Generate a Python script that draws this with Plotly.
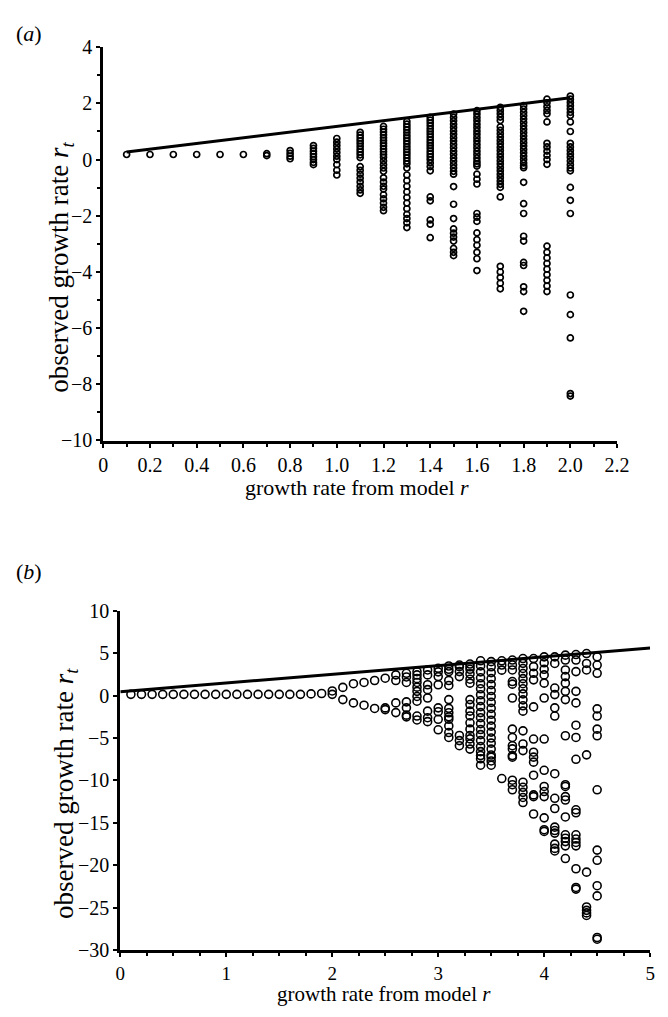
import plotly.graph_objects as go

# ---------------- panel (a) data ----------------
a_r = [0.1, 0.2, 0.3, 0.4, 0.5, 0.6, 0.7, 0.8, 0.9, 1.0,
       1.1, 1.2, 1.3, 1.4, 1.5, 1.6, 1.7, 1.8, 1.9, 2.0]
a_obs = [
    [0.18], [0.18], [0.18], [0.18], [0.18], [0.18],
    [0.21, 0.14],
    [0.32, 0.22, 0.12, 0.03],
    [0.5, 0.4, 0.3, 0.2, 0.1, 0.0, -0.1, -0.18],
    [0.75, 0.62, 0.5, 0.38, 0.25, 0.12, 0.0, -0.18, -0.38, -0.55],
    [0.97, 0.87, 0.77, 0.67, 0.57, 0.47, 0.37, 0.27, 0.17, 0.07,
     -0.25, -0.38, -0.52, -0.66, -0.8, -0.95, -1.08, -1.2],
    [1.18, 1.08, 0.98, 0.88, 0.78, 0.68, 0.58, 0.48, 0.38, 0.28, 0.18, 0.08,
     -0.05, -0.18, -0.3, -0.42, -0.65, -0.8, -0.95, -1.05, -1.25, -1.4, -1.55, -1.7, -1.82],
    [1.36, 1.26, 1.16, 1.06, 0.96, 0.86, 0.76, 0.66, 0.56, 0.46, 0.36, 0.26, 0.16, 0.06,
     -0.05, -0.15, -0.3, -0.55, -0.75, -0.95, -1.15, -1.35, -1.55, -1.75, -1.95, -2.1, -2.25, -2.42],
    [1.5, 1.4, 1.3, 1.2, 1.1, 1.0, 0.9, 0.8, 0.7, 0.6, 0.5, 0.4, 0.3, 0.2, 0.1, 0.0,
     -0.12, -0.25, -0.4, -1.33, -1.47, -2.15, -2.3, -2.78],
    [1.62, 1.5, 1.38, 1.26, 1.14, 1.02, 0.9, 0.78, 0.66, 0.54, 0.42, 0.3, 0.18, 0.06,
     -0.06, -0.18, -0.3, -0.42, -0.52, -0.96, -1.59, -2.1, -2.47, -2.62, -2.76, -2.9,
     -3.16, -3.3, -3.42],
    [1.74, 1.62, 1.5, 1.38, 1.26, 1.14, 1.02, 0.9, 0.78, 0.66, 0.54, 0.42, 0.3, 0.18, 0.06,
     -0.06, -0.15, -0.23, -0.52, -0.7, -0.87, -1.92, -2.05, -2.2, -2.61, -2.85, -3.05,
     -3.3, -3.53, -3.95],
    [1.86, 1.75, 1.63, 1.51, 1.39, 1.16, 1.04, 0.92, 0.8, 0.68, 0.56, 0.44, 0.32, 0.2, 0.08,
     -0.04, -0.16, -0.28, -0.4, -0.52, -0.64, -0.76, -0.88, -0.99, -1.33,
     -3.8, -4.0, -4.2, -4.4, -4.6],
    [1.92, 1.8, 1.68, 1.56, 1.44, 1.32, 1.2, 1.08, 0.96, 0.84, 0.72, 0.6, 0.48, 0.36, 0.24,
     0.12, 0.0, -0.12, -0.22, -0.29, -0.81, -1.57, -1.92, -2.73, -2.9, -3.66, -3.77,
     -4.53, -4.7, -5.4],
    [2.15, 2.02, 1.88, 1.75, 1.63, 1.34, 0.58, 0.45, 0.3, 0.15, 0.0, -0.17,
     -3.08, -3.3, -3.5, -3.7, -3.9, -4.1, -4.3, -4.5, -4.7],
    [2.26, 2.15, 2.03, 1.92, 1.8, 1.68, 1.57, 1.34, 1.0, 0.58, 0.45, 0.32, 0.2, 0.08,
     -0.05, -0.18, -0.3, -0.4, -0.99, -1.45, -1.92, -4.82, -5.52, -6.35, -8.33, -8.42],
]
a_line_r = [0.1, 2.0]
a_line_val = [0.27, 2.2]

# ---------------- panel (b) data ----------------
b_r = [0.1, 0.2, 0.3, 0.4, 0.5, 0.6, 0.7, 0.8, 0.9, 1.0,
       1.1, 1.2, 1.3, 1.4, 1.5, 1.6, 1.7, 1.8, 1.9, 2.0,
       2.1, 2.2, 2.3, 2.4, 2.5, 2.6, 2.7, 2.8, 2.9, 3.0,
       3.1, 3.2, 3.3, 3.4, 3.5, 3.6, 3.7, 3.8, 3.9, 4.0,
       4.1, 4.2, 4.3, 4.4, 4.5]
b_obs = [
    [0.15], [0.15], [0.15], [0.15], [0.15], [0.15], [0.15], [0.15], [0.15], [0.15],
    [0.15], [0.15], [0.15], [0.15], [0.15], [0.15], [0.15], [0.2], [0.25], [0.55, 0.15],
    [0.97, -0.47],
    [1.4, -0.86],
    [1.55, -1.13],
    [1.78, -1.51],
    [2.05, -1.45, -1.65],
    [2.44, 1.78, -0.86, -2.0],
    [2.63, 2.2, 1.55, -0.74, -1.44, -2.3, -2.5],
    [2.83, 2.44, 2.0, 1.55, 1.0, 0.5, -0.1, -0.66, -2.41, -2.87],
    [3.02, 2.44, 1.28, 0.7, -0.28, -1.83, -2.6, -3.07],
    [3.21, 2.8, 2.24, 1.28, -1.44, -1.9, -2.79, -4.03],
    [3.49, 3.1, 2.83, 1.78, 1.2, -0.47, -1.5, -2.02, -2.5, -2.79, -3.57, -4.35, -4.93],
    [3.6, 3.41, 2.83, 2.24, -4.7, -5.3, -5.9],
    [3.72, 3.4, 3.1, 2.56, 1.93, 1.47, -0.47, -1.05, -1.83, -2.4, -3.2, -3.95, -4.7,
     -5.1, -5.7, -6.3],
    [4.1, 3.5, 2.8, 2.1, 1.4, 0.8, 0.1, -0.6, -1.3, -2.0, -2.6, -3.3, -4.0, -4.6, -5.3,
     -6.0, -6.6, -7.06, -7.44, -8.2],
    [4.0, 3.4, 2.7, 2.0, 1.3, 0.6, -0.1, -0.8, -1.5, -2.2, -2.9, -3.6, -4.3, -5.0, -5.6,
     -6.3, -7.0, -7.25, -7.7, -8.2],
    [4.1, 3.6, 3.0, -9.77],
    [4.19, 3.6, 3.02, 1.66, 1.35, -0.28, -3.95, -4.93, -5.9, -6.28, -7.06, -7.25,
     -9.97, -10.5, -11.1],
    [4.37, 3.8, 3.2, 2.6, 2.0, 1.4, 0.8, 0.2, -0.5, -1.2, -1.83, -4.15, -5.7, -6.48,
     -10.2, -10.8, -11.4, -12.0, -12.6],
    [4.37, 3.41, 2.63, 1.86, -1.33, -5.12, -6.67, -7.25, -7.84, -9.38, -11.7, -11.9, -13.95],
    [4.57, 3.87, 3.1, 2.44, 1.47, -0.28, -5.12, -8.8, -10.7, -11.3, -11.9, -14.4, -15.8, -16.0],
    [4.57, 3.79, 0.89, 0.12, -1.44, -2.41, -9.2, -12.1, -13.3, -15.5, -15.9, -16.2,
     -17.5, -18.0, -18.3],
    [4.77, 4.19, 3.02, 2.24, 1.47, 0.5, -0.47, -4.73, -10.5, -10.7, -11.9, -12.3, -14.3,
     -16.4, -16.8, -17.2, -17.7, -19.2],
    [4.84, 4.19, 2.83, 0.5, -0.86, -3.49, -4.93, -7.5, -13.45, -13.8, -16.4, -16.9,
     -17.3, -17.7, -20.4, -22.6, -22.8],
    [4.96, 3.79, 3.02, -6.98, -20.8, -24.9, -25.3, -25.6, -25.9],
    [4.57, 3.6, 2.63, -1.56, -2.41, -3.95, -4.73, -11.1, -18.2, -19.4, -22.4, -23.6,
     -28.5, -28.7],
]
b_line_r = [0.0, 5.0]
b_line_val = [0.45, 5.6]

# tick labels
a_xticks = [0, 0.2, 0.4, 0.6, 0.8, 1.0, 1.2, 1.4, 1.6, 1.8, 2.0, 2.2]
a_xticklabels = ["0", "0.2", "0.4", "0.6", "0.8", "1.0", "1.2", "1.4", "1.6", "1.8", "2.0", "2.2"]
a_yticks = [-10, -8, -6, -4, -2, 0, 2, 4]
a_yticklabels = ["\u221210", "\u22128", "\u22126", "\u22124", "\u22122", "0", "2", "4"]
b_xticks = [0, 1, 2, 3, 4, 5]
b_xticklabels = ["0", "1", "2", "3", "4", "5"]
b_yticks = [-30, -25, -20, -15, -10, -5, 0, 5, 10]
b_yticklabels = ["\u221230", "\u221225", "\u221220", "\u221215", "\u221210", "\u22125", "0", "5", "10"]


def flatten(rs, cols):
    xs, ys = [], []
    for r, vals in zip(rs, cols):
        xs.extend([r] * len(vals))
        ys.extend(vals)
    return xs, ys


ax, ay = flatten(a_r, a_obs)
bx, by = flatten(b_r, b_obs)

FONT = "Liberation Serif"

fig = go.Figure()
fig.add_trace(go.Scatter(x=a_line_r, y=a_line_val, mode="lines",
                         line=dict(color="black", width=3), xaxis="x", yaxis="y",
                         showlegend=False, hoverinfo="skip"))
fig.add_trace(go.Scatter(x=ax, y=ay, mode="markers", xaxis="x", yaxis="y",
                         marker=dict(symbol="circle-open", size=6, color="black",
                                     line=dict(width=1.7, color="black")),
                         showlegend=False))
fig.add_trace(go.Scatter(x=b_line_r, y=b_line_val, mode="lines",
                         line=dict(color="black", width=3), xaxis="x2", yaxis="y2",
                         showlegend=False, hoverinfo="skip"))
fig.add_trace(go.Scatter(x=bx, y=by, mode="markers", xaxis="x2", yaxis="y2",
                         marker=dict(symbol="circle-open", size=8, color="black",
                                     line=dict(width=1.6, color="black")),
                         showlegend=False))

W, H = 668, 1017


def px_x(p):
    return p / W


def px_y(p):
    return 1 - p / H


axis_common = dict(showline=True, linecolor="black", linewidth=3, showgrid=False,
                   zeroline=False, ticks="outside", tickcolor="black", tickwidth=2,
                   ticklen=4, tickfont=dict(family=FONT, size=20, color="black"),
                   mirror=False)

fig.update_layout(
    width=W, height=H,
    margin=dict(l=0, r=0, t=0, b=0),
    paper_bgcolor="white", plot_bgcolor="white",
    font=dict(family=FONT, color="black"),
    xaxis=dict(axis_common, domain=[px_x(101), px_x(629)], range=[0, 2.2],
               tickvals=a_xticks, ticktext=a_xticklabels, anchor="y",
               minor=dict(dtick=0.1, tick0=0, ticks="outside", ticklen=3,
                          tickwidth=2, tickcolor="black")),
    yaxis=dict(axis_common, domain=[px_y(439), px_y(37)], range=[-10, 4],
               tickvals=a_yticks, ticktext=a_yticklabels, anchor="x",
               minor=dict(dtick=1, tick0=0, ticks="outside", ticklen=3,
                          tickwidth=2, tickcolor="black")),
    xaxis2=dict(axis_common, domain=[px_x(118.5), px_x(663)], range=[0, 5],
                tickvals=b_xticks, ticktext=b_xticklabels, anchor="y2",
                tickfont=dict(family=FONT, size=19, color="black"),
                minor=dict(dtick=0.25, tick0=0, ticks="outside", ticklen=3,
                           tickwidth=2, tickcolor="black")),
    yaxis2=dict(axis_common, domain=[px_y(960), px_y(613)], range=[-30, 10],
                tickvals=b_yticks, ticktext=b_yticklabels, anchor="x2"),
)

annots = [
    dict(text="(<i>a</i>)", x=px_x(25), y=px_y(23), size=22),
    dict(text="(<i>b</i>)", x=px_x(25), y=px_y(573), size=22),
    dict(text="growth rate from model <i>r</i>", x=px_x(362), y=px_y(487), size=22),
    dict(text="growth rate from model <i>r</i>", x=px_x(390), y=px_y(1005), size=21),
    dict(text="observed growth rate <i>r<sub>t</sub></i>", x=px_x(58), y=px_y(262),
         textangle=-90, size=27),
    dict(text="observed growth rate <i>r<sub>t</sub></i>", x=px_x(62), y=px_y(800),
         textangle=-90, size=27),
]
for a in annots:
    size = a.pop("size")
    fig.add_annotation(xref="paper", yref="paper", showarrow=False,
                       xanchor="center", yanchor="middle",
                       font=dict(family=FONT, size=size, color="black"), **a)

fig.write_html("out.html", config={"displayModeBar": False},
               post_script="document.body.style.margin='0px';")
